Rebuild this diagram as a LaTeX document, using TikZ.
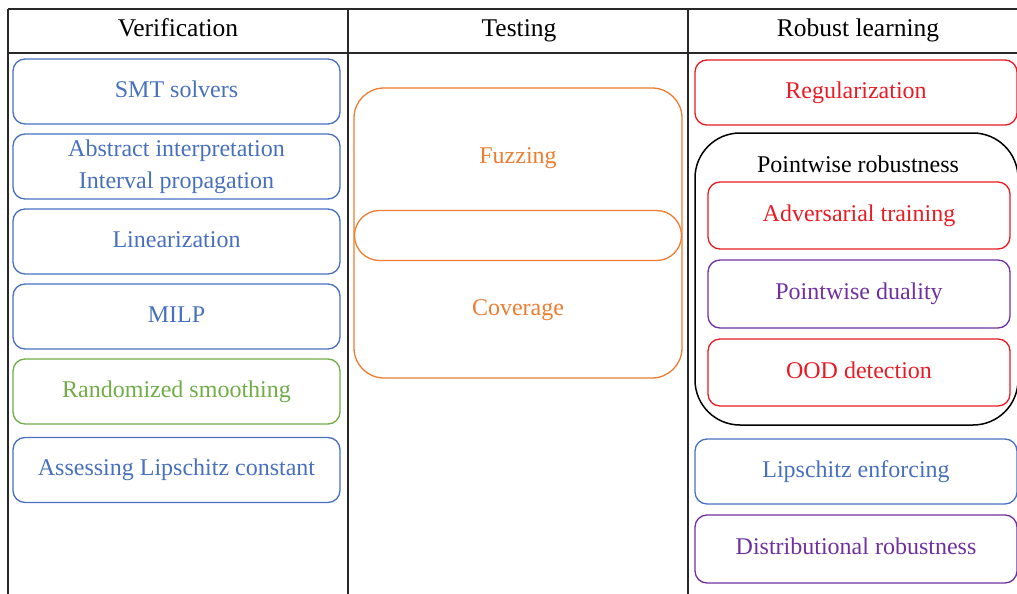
\documentclass[tikz,border=0pt]{standalone}
\usepackage{fontspec}
\setmainfont{Liberation Serif}
\usetikzlibrary{positioning}
\definecolor{vblue}{RGB}{72,112,190}
\definecolor{vgreen}{RGB}{112,173,71}
\definecolor{torange}{RGB}{237,125,49}
\definecolor{rred}{RGB}{232,28,36}
\definecolor{rpurple}{RGB}{112,48,160}
\definecolor{tline}{RGB}{40,40,40}

\begin{document}
\begin{tikzpicture}[x=1pt, y=-1pt,
    every node/.style={font=\fontsize{24}{32}\selectfont, inner sep=0pt},
    method/.style={draw, rounded corners=12pt, line width=1.3pt, minimum height=65pt,
        text height=16pt, text depth=5pt},
    vbox/.style={method, draw=vblue, text=vblue, minimum width=327pt},
    rbox/.style={method, minimum width=322pt},
    inbox/.style={method, minimum width=302pt, minimum height=67pt},
    head/.style={font=\fontsize{25.5}{32}\selectfont, text height=16pt, text depth=5pt}]

    \useasboundingbox (0,0) rectangle (1017,594);

    % table frame
    \draw[tline, line width=1.4pt] (8,9) -- (1017,9);
    \draw[tline, line width=1.4pt] (8,53) -- (1017,53);
    \foreach \x in {8,348,688}
        \draw[tline, line width=1.4pt] (\x,9) -- (\x,594);

    % column heads
    \node[head] (verif) at (178,31.5) {Verification};
    \node[head] (testing) at (519,31.5) {Testing};
    \node[head] (robust) at (858,31.5) {Robust learning};

    % verification methods
    \foreach \y/\name/\col/\txt in {91.5/smt/vblue/SMT solvers,
                                    241.5/linear/vblue/Linearization,
                                    316.5/milp/vblue/MILP,
                                    391.5/smooth/vgreen/Randomized smoothing,
                                    470/lipconst/vblue/Assessing Lipschitz constant}
    {
        \node[vbox, draw=\col, text=\col] (\name) at (176.5,\y) {\txt};
    }
    \node[vbox, align=center, text height={}, text depth={}] (absint) at (176.5,166.5)
        {Abstract interpretation\\Interval propagation};

    % testing
    \node[draw=torange, line width=1.3pt, rounded corners=30pt,
        minimum width=328pt, minimum height=290pt] (testbox) at (518,233) {};
    \node[draw=torange, line width=1.3pt, rounded corners=25pt,
        minimum width=327pt, minimum height=50pt] (overlap) at (518,235.5) {};
    \node[head, font=\fontsize{24}{32}\selectfont, text=torange] (fuzzing) at (518,157.5) {Fuzzing};
    \node[head, font=\fontsize{24}{32}\selectfont, text=torange] (coverage) at (518,309.5) {Coverage};

    % robust learning
    \node[rbox, draw=rred, text=rred] (regular) at (856,92.5) {Regularization};
    \node[draw=black, line width=1.5pt, rounded corners=45pt,
        minimum width=323pt, minimum height=292pt] (pointwise) at (856.5,279) {};
    \node[head, font=\fontsize{24}{32}\selectfont] (pwlabel) at (858,166.5) {Pointwise robustness};
    \node[inbox, draw=rred, text=rred] (advtrain) at (859,215.5) {Adversarial training};
    \node[inbox, draw=rpurple, text=rpurple, minimum height=68pt] (duality) at (859,294) {Pointwise duality};
    \node[inbox, draw=rred, text=rred] (ood) at (859,372.5) {OOD detection};
    \node[rbox, draw=vblue, text=vblue] (lipenf) at (856,471.5) {Lipschitz enforcing};
    \node[rbox, draw=rpurple, text=rpurple, minimum height=68pt] (distrib) at (856,549) {Distributional robustness};
\end{tikzpicture}
\end{document}
